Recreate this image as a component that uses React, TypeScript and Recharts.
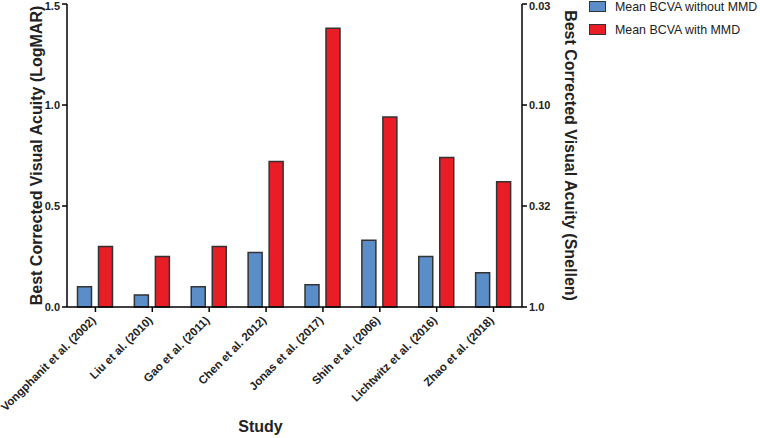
import React from "react";
import { BarChart, Bar, XAxis, YAxis } from "recharts";

const studies = [
  "Vongphanit et al. (2002)",
  "Liu et al. (2010)",
  "Gao et al. (2011)",
  "Chen et al. 2012)",
  "Jonas et al. (2017)",
  "Shih et al. (2006)",
  "Lichtwitz et al. (2016)",
  "Zhao et al. (2018)",
];
const withoutMMD = [0.1, 0.06, 0.1, 0.27, 0.11, 0.33, 0.25, 0.17];
const withMMD = [0.3, 0.25, 0.3, 0.72, 1.38, 0.94, 0.74, 0.62];

const logmarTicks = [0, 0.5, 1.0, 1.5];
const snellenLabels = ["1.0", "0.32", "0.10", "0.03"];
const seriesNames = ["Mean BCVA without MMD", "Mean BCVA with MMD"];

const FONT = "Arial, 'Liberation Sans', Helvetica, sans-serif";
const BLUE = "#5b8dc9";
const RED = "#e81d25";

const data = studies.map((study, i) => ({
  study,
  without: withoutMMD[i],
  with: withMMD[i],
}));

function StudyTick({ x, y, payload }: any) {
  const ax = x + 1;
  const ay = y + 7;
  return (
    <text
      x={ax}
      y={ay}
      transform={`rotate(-45, ${ax}, ${ay})`}
      textAnchor="end"
      fontFamily={FONT}
      fontSize={11.5}
      fontWeight="bold"
      fill="#222"
    >
      {payload.value}
    </text>
  );
}

function LegendBox() {
  const colors = [BLUE, RED];
  return (
    <div
      style={{
        position: "absolute",
        left: 589,
        top: -5,
        fontFamily: FONT,
        fontSize: 12.4,
        color: "#222",
        whiteSpace: "nowrap",
      }}
    >
      {seriesNames.map((name, i) => (
        <div key={name} style={{ display: "flex", alignItems: "center", height: 23 }}>
          <div
            style={{
              width: 15,
              height: 9,
              background: colors[i],
              border: "1.5px solid #333",
              marginRight: 9,
            }}
          />
          <span>{name}</span>
        </div>
      ))}
    </div>
  );
}

export default function App() {
  const tickStyle = { fontFamily: FONT, fontSize: 11, fontWeight: "bold", fill: "#222" };
  const titleStyle = { fontFamily: FONT, fontSize: 16, fontWeight: "bold", fill: "#222" };
  return (
    <div style={{ position: "absolute", left: 0, top: 0, width: 760, height: 438, background: "#fff" }}>
      <BarChart
        width={760}
        height={438}
        data={data}
        margin={{ top: 4, right: 142, bottom: 0, left: 0 }}
        barCategoryGap={10.5}
        barGap={7}
      >
        <XAxis
          dataKey="study"
          height={131}
          interval={0}
          tick={<StudyTick />}
          tickSize={5}
          stroke="#000"
          strokeWidth={1.5}
          label={{ value: "Study", position: "insideBottom", offset: 6, dx: -34, style: titleStyle }}
        />
        <YAxis
          yAxisId="left"
          width={67}
          domain={[0, 1.5]}
          ticks={logmarTicks}
          tickFormatter={(v: number) => v.toFixed(1)}
          tick={tickStyle}
          tickSize={5}
          tickMargin={2}
          stroke="#000"
          strokeWidth={1.5}
          label={{
            value: "Best Corrected Visual Acuity (LogMAR)",
            angle: -90,
            position: "center",
            dx: 3,
            style: titleStyle,
          }}
        />
        <YAxis
          yAxisId="right"
          orientation="right"
          width={96}
          domain={[0, 1.5]}
          ticks={logmarTicks}
          tickFormatter={(v: number) => snellenLabels[logmarTicks.indexOf(v)]}
          tick={tickStyle}
          tickSize={5}
          tickMargin={2}
          stroke="#000"
          strokeWidth={1.5}
          label={{
            value: "Best Corrected Visual Acuity (Snellen)",
            angle: 90,
            position: "center",
            dx: 1,
            style: titleStyle,
          }}
        />
        <Bar
          yAxisId="left"
          dataKey="without"
          name={seriesNames[0]}
          fill={BLUE}
          stroke="#333"
          strokeWidth={1.5}
          isAnimationActive={false}
        />
        <Bar
          yAxisId="right"
          dataKey="with"
          name={seriesNames[1]}
          fill={RED}
          stroke="#333"
          strokeWidth={1.5}
          isAnimationActive={false}
        />
      </BarChart>
      <LegendBox />
    </div>
  );
}
